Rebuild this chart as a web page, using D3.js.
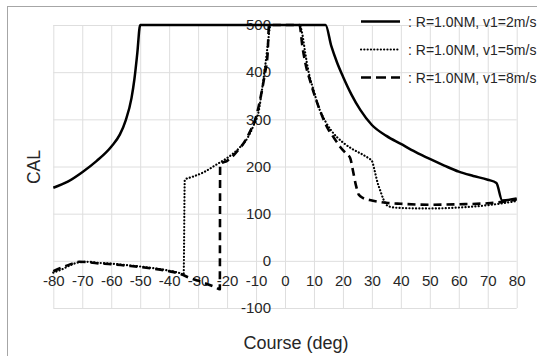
<!DOCTYPE html>
<html>
<head>
<meta charset="utf-8">
<script src="https://cdn.jsdelivr.net/npm/d3@7"></script>
<style>
  body { margin: 0; background: #fff; }
  text { font-family: "Liberation Sans", Arial, sans-serif; fill: #262626; }
  .grid line { stroke: #dedede; stroke-width: 1; }
  .grid path { display: none; }
  .lbl path, .lbl line { display: none; }
</style>
</head>
<body>
<div id="chart"></div>
<script>
// ticks
var xTicks = [-80,-70,-60,-50,-40,-30,-20,-10,0,10,20,30,40,50,60,70,80];
var yTicks = [-100,0,100,200,300,400,500];

// R=1.0NM, v1=2m/s
var course2 = [-80,-75,-70,-65,-60,-57,-55,-53,-52,-51,-50,14,16,18,20,23,26,30,35,40,45,50,55,60,65,70,73,75,80];
var cal2    = [155,168,188,212,242,268,298,345,385,440,500,500,455,420,391,352,320,288,265,248,231,216,202,189,180,172,165,128,132];

// R=1.0NM, v1=5m/s
var course5 = [-80,-77,-74,-71,-68,-65,-60,-55,-50,-45,-40,-36,-35,-34.6,-32,-28,-24,-20,-16,-13,-11,-9,-8,-7,-6,-5,5,6,7,8,10,12,14,16,18,20,23,26,29,30,31,32,33,34,35,36,40,50,60,70,75,80];
var cal5    = [-25,-18,-9,-3,-2,-4,-6,-9,-12,-16,-21,-27,-30,172,178,188,203,218,238,260,285,320,360,405,455,500,500,480,440,405,359,320,295,276,262,251,238,228,217,212,190,165,147,130,119,115,112,111,113,118,122,127];

// R=1.0NM, v1=8m/s
var course8 = [-80,-77,-74,-71,-68,-65,-60,-55,-50,-45,-40,-36,-33,-30,-27,-24,-22.5,-22.4,-20,-18,-16,-14,-12,-10,-9,-8,-7,-6,-5.5,5,6,7,9,12,15,17,19,21,22.5,23.5,24.5,25.5,27,30,35,40,50,60,70,75,80];
var cal8    = [-22,-14,-7,-2,-3,-5,-7,-10,-13,-17,-22,-28,-36,-42,-49,-56,-60,205,212,222,236,252,275,305,330,360,395,440,500,500,455,420,375,320,278,260,242,228,218,190,160,140,133,128,123,121,119,120,122,125,130];

var seriesNames = [": R=1.0NM, v1=2m/s", ": R=1.0NM, v1=5m/s", ": R=1.0NM, v1=8m/s"];

var W = 537, H = 356;
var margin = {top: 25, right: 20.3, bottom: 48, left: 53.3},
    width = W - margin.left - margin.right,
    height = H - margin.top - margin.bottom;

var x = d3.scaleLinear().domain([-80, 80]).range([0, width]);
var y = d3.scaleLinear().domain([-100, 500]).range([height, 0]);

var svg = d3.select("#chart").append("svg")
    .attr("width", W)
    .attr("height", H);

// outer frame
svg.append("rect")
    .attr("x", 7.5).attr("y", 6.5)
    .attr("width", W).attr("height", H)
    .attr("fill", "none")
    .attr("stroke", "#a6a6a6")
    .attr("stroke-width", 1);

var g = svg.append("g")
    .attr("transform", "translate(" + margin.left + "," + margin.top + ")");

// grid
g.append("g")
    .attr("class", "grid")
    .attr("transform", "translate(0," + height + ")")
    .call(d3.axisBottom(x).tickValues(xTicks).tickSize(-height).tickFormat(""));
g.append("g")
    .attr("class", "grid")
    .call(d3.axisLeft(y).tickValues(yTicks).tickSize(-width).tickFormat(""));

// tick labels along the zero lines (plain hyphen for minus)
var fmt = function(d) { return String(d); };
var xa = g.append("g")
    .attr("class", "lbl")
    .attr("transform", "translate(0," + y(0) + ")")
    .call(d3.axisBottom(x).tickValues(xTicks).tickSize(0).tickPadding(15).tickFormat(fmt));
xa.selectAll("text").style("font-size", "15px").style("font-family", "'Liberation Sans', Arial, sans-serif").attr("fill", "#262626");

var ya = g.append("g")
    .attr("class", "lbl")
    .attr("transform", "translate(" + x(0) + ",0)")
    .call(d3.axisLeft(y).tickValues(yTicks).tickSize(0).tickPadding(14).tickFormat(fmt));
ya.selectAll("text").style("font-size", "15px").style("font-family", "'Liberation Sans', Arial, sans-serif").attr("fill", "#262626");

// lines
var line = d3.line()
    .curve(d3.curveMonotoneX)
    .x(function(d) { return x(d[0]); })
    .y(function(d) { return y(d[1]); });

var styles = [
  {dash: null, w: 2.5, cap: "butt"},
  {dash: "0.1,3.2", w: 2.2, cap: "round"},
  {dash: "8,5", w: 2.6, cap: "butt"}
];

var data = [
  d3.zip(course5, cal5),
  d3.zip(course8, cal8),
  d3.zip(course2, cal2)
];
var order = [1, 2, 0];

data.forEach(function(dd, i) {
  var s = styles[order[i]];
  g.append("path")
      .datum(dd)
      .attr("fill", "none")
      .attr("stroke", "#000")
      .attr("stroke-width", s.w)
      .attr("stroke-linecap", s.cap)
      .attr("stroke-linejoin", "round")
      .attr("stroke-dasharray", s.dash)
      .attr("d", line);
});

// legend
var legY = [21.5, 49.5, 77.5];
seriesNames.forEach(function(name, i) {
  var s = styles[i];
  svg.append("line")
      .attr("x1", 361).attr("x2", 400)
      .attr("y1", legY[i]).attr("y2", legY[i])
      .attr("stroke", "#000")
      .attr("stroke-width", s.w)
      .attr("stroke-linecap", s.cap)
      .attr("stroke-dasharray", i == 2 ? "10,5" : s.dash);
  svg.append("text")
      .attr("x", 408)
      .attr("y", legY[i] + 5)
      .style("font-size", "14px")
      .text(name);
});

// axis titles
svg.append("text")
    .attr("x", 296)
    .attr("y", 349)
    .attr("text-anchor", "middle")
    .style("font-size", "18px")
    .text("Course (deg)");

svg.append("text")
    .attr("transform", "translate(39.5,167) rotate(-90)")
    .attr("text-anchor", "middle")
    .style("font-size", "17.5px")
    .text("CAL");
</script>
</body>
</html>
